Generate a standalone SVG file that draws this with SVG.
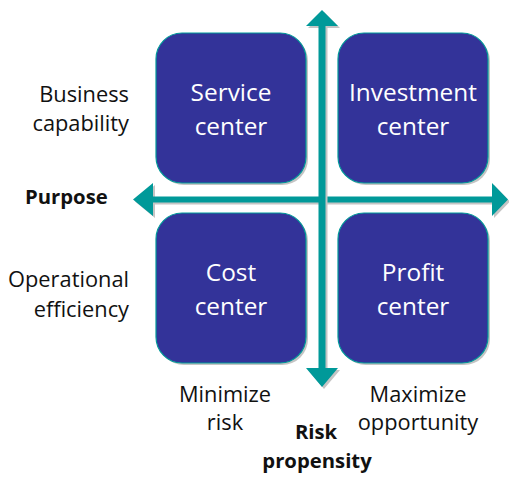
<svg xmlns="http://www.w3.org/2000/svg" xmlns:xlink="http://www.w3.org/1999/xlink" width="509" height="478" viewBox="0 0 509 478">
<style>
.box{fill:#333399;stroke:#009999;stroke-width:1.2}
.shadow{fill:#c4c4c4}
.bt{font-family:"Open Sans","Liberation Sans",sans-serif;font-size:24.4px;fill:#ffffff;text-anchor:middle}
.lbl{font-family:"Open Sans","Liberation Sans",sans-serif;font-size:21.8px;fill:#111111}
.bold{font-weight:bold;font-size:20.3px}
.arrow{fill:#009999}
</style>
<defs>
<rect id="bx" width="150" height="150" rx="26" ry="26"/>
<path id="vArr" d="M318.5,26 L306,26 L322,10 L338,26 L325.5,26 L325.5,368 L338,368 L322,387 L306,368 L318.5,368 Z"/>
<path id="hArr" d="M153,196.5 L153,183 L133,199.5 L153,216 L153,202.5 L492,202.5 L492,216 L508,199.5 L492,183 L492,196.5 Z"/>
</defs>
<g id="service">
<use xlink:href="#bx" x="158" y="35" class="shadow"/>
<use xlink:href="#bx" x="156" y="33" class="box"/>
<text class="bt" x="231" y="101">Service</text>
<text class="bt" x="231" y="135">center</text>
</g>
<g id="investment">
<use xlink:href="#bx" x="340" y="35" class="shadow"/>
<use xlink:href="#bx" x="338" y="33" class="box"/>
<text class="bt" x="413" y="101">Investment</text>
<text class="bt" x="413" y="135">center</text>
</g>
<g id="cost">
<use xlink:href="#bx" x="158" y="215" class="shadow"/>
<use xlink:href="#bx" x="156" y="213" class="box"/>
<text class="bt" x="231" y="281">Cost</text>
<text class="bt" x="231" y="315">center</text>
</g>
<g id="profit">
<use xlink:href="#bx" x="340" y="215" class="shadow"/>
<use xlink:href="#bx" x="338" y="213" class="box"/>
<text class="bt" x="413" y="281">Profit</text>
<text class="bt" x="413" y="315">center</text>
</g>
<g id="connectors">
<use xlink:href="#hArr" x="2" y="2" class="shadow"/>
<use xlink:href="#hArr" class="arrow"/>
<use xlink:href="#vArr" x="2" y="2" class="shadow"/>
<use xlink:href="#vArr" class="arrow"/>
</g>
<g id="labels">
<text class="lbl" text-anchor="end" x="129" y="102">Business</text>
<text class="lbl" text-anchor="end" x="129" y="131">capability</text>
<text class="lbl bold" x="25" y="204">Purpose</text>
<text class="lbl" text-anchor="end" x="129" y="287">Operational</text>
<text class="lbl" text-anchor="end" x="129" y="317">efficiency</text>
<text class="lbl" text-anchor="middle" x="225" y="402">Minimize</text>
<text class="lbl" text-anchor="middle" x="225" y="430">risk</text>
<text class="lbl" text-anchor="middle" x="418" y="402">Maximize</text>
<text class="lbl" text-anchor="middle" x="418" y="430">opportunity</text>
<text class="lbl bold" text-anchor="middle" x="316" y="439">Risk</text>
<text class="lbl bold" text-anchor="middle" x="317" y="468">propensity</text>
</g>
</svg>
